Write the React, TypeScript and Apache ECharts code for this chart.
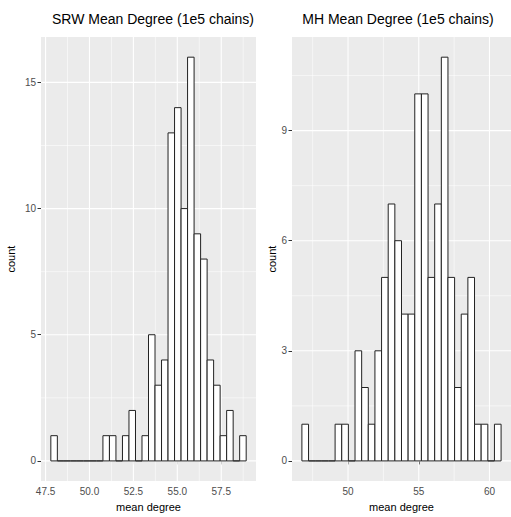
import React, { useEffect, useRef } from "react";
import * as echarts from "echarts";

// SRW histogram (30 bins)
const srwBinStart = 47.8;
const srwBinWidth = 0.3707;
const srwCounts = [1, 0, 0, 0, 0, 0, 0, 0, 1, 1, 0, 1, 2, 0, 1, 5, 3, 4, 13, 14, 10, 16, 9, 8, 4, 3, 1, 2, 0, 1];
const srwXTicks = [47.5, 50, 52.5, 55, 57.5];
const srwXMinor = [48.75, 51.25, 53.75, 56.25, 58.75];
const srwYTicks = [0, 5, 10, 15];
const srwYMinor = [2.5, 7.5, 12.5];

// MH histogram (30 bins)
const mhBinStart = 46.74;
const mhBinWidth = 0.4693;
const mhCounts = [1, 0, 0, 0, 0, 1, 1, 0, 3, 2, 1, 3, 5, 7, 6, 4, 4, 10, 10, 5, 7, 11, 5, 2, 4, 5, 1, 1, 0, 1];
const mhXTicks = [50, 55, 60];
const mhXMinor = [47.5, 52.5, 57.5];
const mhYTicks = [0, 3, 6, 9];
const mhYMinor = [1.5, 4.5, 7.5, 10.5];

const titles = ["SRW Mean Degree (1e5 chains)", "MH Mean Degree (1e5 chains)"];

const FONT = "Liberation Sans, Arial, Helvetica, sans-serif";

function binData(start: number, width: number, counts: number[]) {
  return counts.map((c, i) => [start + i * width, start + (i + 1) * width, c]);
}

function gridData(xMajor: number[], xMinor: number[], yMajor: number[], yMinor: number[], xRef: number) {
  const d: number[][] = [];
  xMinor.forEach((v) => d.push([v, 0, 0, 0]));
  yMinor.forEach((v) => d.push([xRef, v, 1, 0]));
  xMajor.forEach((v) => d.push([v, 0, 0, 1]));
  yMajor.forEach((v) => d.push([xRef, v, 1, 1]));
  return d;
}

const renderHist = (params: any, api: any) => {
  const x0 = api.value(0);
  const x1 = api.value(1);
  const c = api.value(2);
  const p0 = api.coord([x0, c]);
  const p1 = api.coord([x1, 0]);
  return {
    type: "rect",
    shape: { x: p0[0], y: p0[1], width: p1[0] - p0[0], height: p1[1] - p0[1] },
    style: { fill: "#ffffff", stroke: "#222222", lineWidth: 1 },
  };
};

const renderGrid = (params: any, api: any) => {
  const cs = params.coordSys;
  const p = api.coord([api.value(0), api.value(1)]);
  const vertical = api.value(2) === 0;
  const major = api.value(3) === 1;
  const shape = vertical
    ? { x1: p[0], y1: cs.y, x2: p[0], y2: cs.y + cs.height }
    : { x1: cs.x, y1: p[1], x2: cs.x + cs.width, y2: p[1] };
  return {
    type: "line",
    shape,
    style: { stroke: "#ffffff", lineWidth: major ? 1.1 : 0.55 },
  };
};

export default function App() {
  const ref = useRef<HTMLDivElement>(null);
  useEffect(() => {
    if (!ref.current) return;
    const chart = echarts.init(ref.current, undefined, { renderer: "svg" });
    const srwMin = 47.24, srwMax = 59.48;
    const mhMin = 46.04, mhMax = 61.52;
    const axisLabelStyle = { color: "#4D4D4D", fontSize: 10, fontFamily: FONT };
    const tickStyle = { show: true, length: 3.5, lineStyle: { color: "#333333", width: 1 } };
    const nameStyle = { color: "#000000", fontSize: 11, fontFamily: FONT };
    chart.setOption({
      animation: false,
      title: [
        { text: titles[0], left: 148, top: 7, textAlign: "center", textStyle: { fontSize: 14, fontWeight: "normal", color: "#000", fontFamily: FONT } },
        { text: titles[1], left: 393, top: 7, textAlign: "center", textStyle: { fontSize: 14, fontWeight: "normal", color: "#000", fontFamily: FONT } },
      ],
      grid: [
        { left: 41, right: 255, top: 37, bottom: 32, show: true, backgroundColor: "#EBEBEB", borderWidth: 0 },
        { left: 292, right: -1, top: 37, bottom: 32, show: true, backgroundColor: "#EBEBEB", borderWidth: 0 },
      ],
      xAxis: [
        {
          type: "value", gridIndex: 0, min: srwMin, max: srwMax,
          axisLine: { show: false },
          axisTick: { ...tickStyle, customValues: srwXTicks },
          axisLabel: { ...axisLabelStyle, customValues: srwXTicks, margin: 5, formatter: (v: number) => v.toFixed(1) },
          splitLine: { show: false },
          name: "mean degree", nameLocation: "middle", nameGap: 19, nameTextStyle: nameStyle,
        },
        {
          type: "value", gridIndex: 1, min: mhMin, max: mhMax,
          axisLine: { show: false },
          axisTick: { ...tickStyle, customValues: mhXTicks },
          axisLabel: { ...axisLabelStyle, customValues: mhXTicks, margin: 5, formatter: (v: number) => String(v) },
          splitLine: { show: false },
          name: "mean degree", nameLocation: "middle", nameGap: 19, nameTextStyle: nameStyle,
        },
      ],
      yAxis: [
        {
          type: "value", gridIndex: 0, min: -0.8, max: 16.8,
          axisLine: { show: false },
          axisTick: { ...tickStyle, customValues: srwYTicks },
          axisLabel: { ...axisLabelStyle, customValues: srwYTicks, margin: 5 },
          splitLine: { show: false },
          name: "count", nameLocation: "middle", nameGap: 25, nameRotate: 90, nameTextStyle: nameStyle,
        },
        {
          type: "value", gridIndex: 1, min: -0.55, max: 11.55,
          axisLine: { show: false },
          axisTick: { ...tickStyle, customValues: mhYTicks },
          axisLabel: { ...axisLabelStyle, customValues: mhYTicks, margin: 5 },
          splitLine: { show: false },
          name: "count", nameLocation: "middle", nameGap: 14, nameRotate: 90, nameTextStyle: nameStyle,
        },
      ],
      series: [
        {
          type: "custom", xAxisIndex: 0, yAxisIndex: 0, z: 1, silent: true,
          renderItem: renderGrid, encode: { x: 0, y: 1 },
          data: gridData(srwXTicks, srwXMinor, srwYTicks, srwYMinor, srwMin + 1),
        },
        {
          type: "custom", xAxisIndex: 1, yAxisIndex: 1, z: 1, silent: true,
          renderItem: renderGrid, encode: { x: 0, y: 1 },
          data: gridData(mhXTicks, mhXMinor, mhYTicks, mhYMinor, mhMin + 1),
        },
        {
          type: "custom", xAxisIndex: 0, yAxisIndex: 0, z: 3, silent: true,
          renderItem: renderHist, encode: { x: [0, 1], y: 2 },
          data: binData(srwBinStart, srwBinWidth, srwCounts),
        },
        {
          type: "custom", xAxisIndex: 1, yAxisIndex: 1, z: 3, silent: true,
          renderItem: renderHist, encode: { x: [0, 1], y: 2 },
          data: binData(mhBinStart, mhBinWidth, mhCounts),
        },
      ],
    });
    return () => chart.dispose();
  }, []);
  return <div ref={ref} style={{ width: 511, height: 517, position: "absolute", left: 0, top: 0, background: "#fff" }} />;
}
